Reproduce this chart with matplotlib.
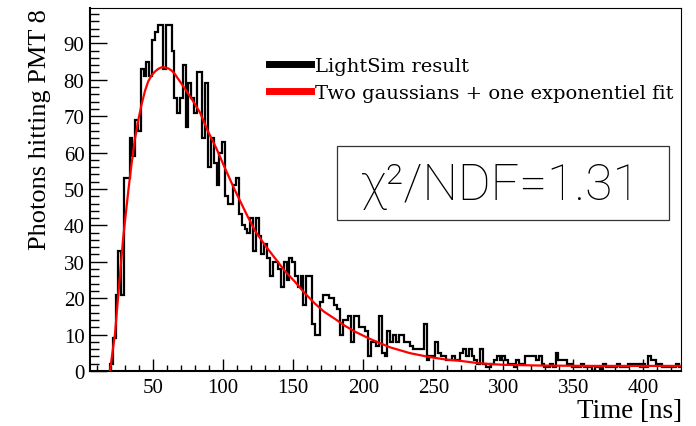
import matplotlib.pyplot as plt
import numpy as np
from matplotlib.ticker import MultipleLocator
from matplotlib.patches import Rectangle
from matplotlib.lines import Line2D

# histogram: 2 ns bins starting at 19.3 ns
bin_start = 19.3
bin_width = 2.0
counts = [
    2, 9, 21, 33, 21, 53, 53, 64, 59, 69, 66, 83, 81, 85, 81, 91, 93, 95, 95, 83,
    95, 95, 88, 75, 71,
    75, 84, 67, 79, 75, 71, 82, 82, 64, 79,
    56, 64, 57, 51, 60, 63, 48, 46, 46, 51,
    53, 43, 40, 39, 38, 42, 33, 42, 37, 32,
    35, 31, 26, 30, 30, 28, 23, 30, 25, 31,
    30, 26, 23, 26, 18, 26, 26, 13, 10, 10,
    19, 21, 21, 20, 20, 18, 17, 10, 14, 14,
    15, 8, 15, 15, 12, 12, 11, 4, 8, 8,
    7, 15, 5, 4, 11, 8, 10, 8, 10, 10,
    8, 8, 7, 6, 6, 6, 6, 13, 3, 4,
    4, 8, 5, 4, 4, 3, 3, 4, 3, 3,
    5, 6, 4, 6, 4, 3, 2, 6, 2, 1,
    1, 2, 3, 4, 3, 4, 3, 2, 2, 1,
    3, 2, 2, 4, 4, 4, 4, 3, 4, 2,
    1, 1, 2, 1, 5, 3, 3, 3, 2, 2,
    1, 1, 1, 2, 1, 1, 1, 0, 1, 1,
    0, 2, 1, 1, 1, 1, 2, 1, 1, 1,
    2, 2, 2, 2, 1, 2, 1, 4, 3, 3,
    2, 2, 1, 1, 1, 1, 1, 2, 1,
]

# fit curve
fit_t = [19.3, 21, 22.8, 25.2, 27, 28.8, 30.5, 32.5, 34.7, 37, 39.5, 42, 44.3, 46.5,
         49, 51.5, 53.8, 56, 58.5, 61, 63.3, 65.5, 68, 72.8, 78, 83.5, 89, 95.4,
         101, 108, 116.8, 122.8, 130, 137, 144, 151.3, 158, 165.6, 172, 179.9,
         187, 194.2, 204.9, 219.2, 233.4, 247.7, 260, 269, 283.4, 300, 326, 360,
         400, 427]
fit_v = [0, 5, 10, 21, 29, 37, 43, 50, 57, 63.5, 69, 73.5, 77, 79.5,
         81.2, 82.3, 83, 83.4, 83.4, 83.1, 82.5, 81.6, 80.2, 77.5, 74.5, 71, 66, 61,
         56, 50, 43, 38.5, 34.5, 31, 27.5, 24.5, 21.5, 18.5, 16.3, 14.3,
         12.4, 10.8, 8.8, 6.5, 4.9, 3.8, 3.1, 2.8, 2.1, 1.7, 1.5, 1.4,
         1.4, 1.4]

edges = bin_start + bin_width * np.arange(len(counts) + 1)

fig = plt.figure(figsize=(6.96, 4.27), dpi=100, facecolor="white")
ax = fig.add_axes([0.1293, 0.1288, 0.8491, 0.8501])

ax.stairs(counts, edges, color="black", lw=1.6, baseline=0)
ax.plot(fit_t, fit_v, color="#ff0000", lw=1.6, zorder=5)

ax.set_xlim(5.0, 426.8)
ax.set_ylim(0, 99.7)

ax.xaxis.set_major_locator(MultipleLocator(50))
ax.xaxis.set_minor_locator(MultipleLocator(10))
ax.yaxis.set_major_locator(MultipleLocator(10))
ax.yaxis.set_minor_locator(MultipleLocator(2))
ax.tick_params(axis="x", which="major", direction="in", length=8.5, width=1, pad=5,
               labelsize=15, top=False)
ax.tick_params(axis="x", which="minor", direction="in", length=4.3, width=1, top=False)
ax.tick_params(axis="y", which="major", direction="in", length=12, width=1, pad=4,
               labelsize=15, right=False)
ax.tick_params(axis="y", which="minor", direction="in", length=6.5, width=1, right=False)
for lab in ax.get_xticklabels() + ax.get_yticklabels():
    lab.set_family("Liberation Serif")
ax.spines["left"].set_linewidth(1.5)
ax.spines["bottom"].set_linewidth(1.5)
ax.spines["top"].set_linewidth(0.8)
ax.spines["right"].set_linewidth(0.8)

fig.text(40 / 696, 1 - 9 / 427, "Photons hitting PMT 8", rotation=90, ha="center",
         va="top", fontsize=19, family="Liberation Serif")
fig.text(682 / 696, 1 - 412 / 427, "Time [ns]", ha="right", va="center",
         fontsize=19.5, family="Liberation Serif")

handles = [Line2D([], [], color="black", lw=5), Line2D([], [], color="#ff0000", lw=5)]
ax.legend(handles, ["LightSim result", "Two gaussians + one exponentiel fit"],
          loc="upper left", bbox_to_anchor=(269 / 696, 1 - 58 / 427),
          bbox_transform=fig.transFigure, frameon=False, handlelength=2.15,
          handletextpad=0.22, labelspacing=0.45, borderpad=0, borderaxespad=0,
          prop={"family": "DejaVu Serif", "size": 14})

ax.add_patch(Rectangle((0.418, 0.416), 0.562, 0.204, transform=ax.transAxes,
                       fill=False, ec="#333333", lw=0.9, zorder=6))
ax.text(0.693, 0.474, "χ²/NDF=1.31", transform=ax.transAxes, ha="center",
        va="baseline", fontsize=36, family=["Roboto", "DejaVu Sans"],
        fontweight="light", zorder=7)

fig.savefig("out.png", dpi=100)
